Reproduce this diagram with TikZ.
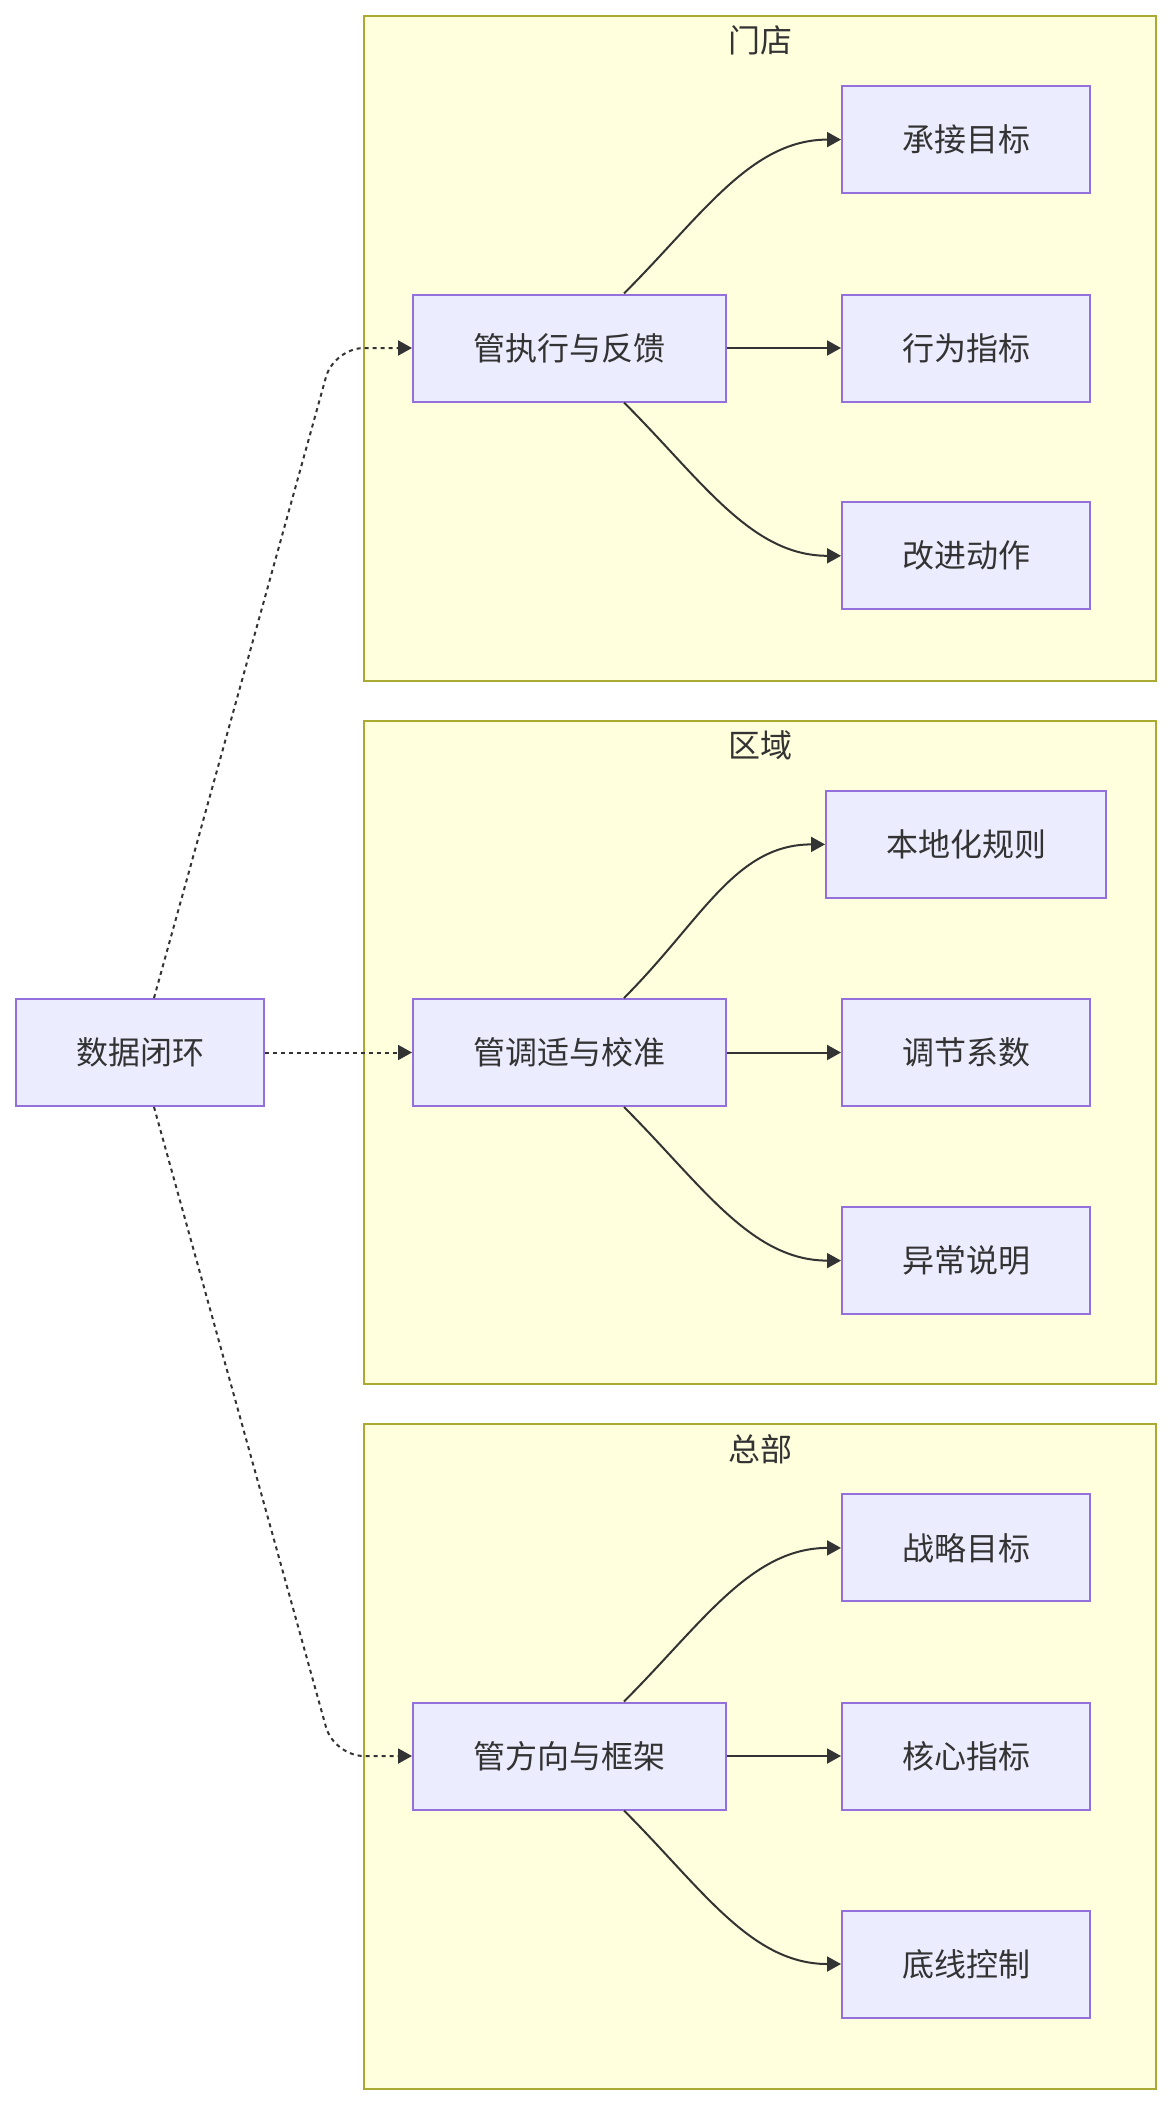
\documentclass[tikz,border=0pt]{standalone}
\usepackage{fontspec}
\setmainfont{Noto Sans CJK SC}
\usetikzlibrary{arrows.meta,positioning}
\definecolor{nodefill}{HTML}{ECECFF}
\definecolor{nodeline}{HTML}{9370DB}
\definecolor{groupfill}{HTML}{FFFFDE}
\definecolor{groupline}{HTML}{AAAA33}
\definecolor{ink}{HTML}{333333}
\tikzset{
  box/.style={draw=nodeline,fill=nodefill,line width=1pt,minimum width=124pt,
              minimum height=53.5pt,inner sep=0pt,text=ink,font=\fontsize{16pt}{19pt}\selectfont},
  wide/.style={minimum width=156.5pt},
  wider/.style={minimum width=140pt},
  group/.style={draw=groupline,fill=groupfill,line width=1pt},
  grouptitle/.style={inner sep=0pt,text=ink,font=\fontsize{16pt}{19pt}\selectfont},
  flow/.style={-{Triangle[length=7pt,width=7.5pt]},line width=1pt,color=ink},
  rise/.style={out=45,in=180,out distance=55pt,in distance=45pt},
  fall/.style={out=-45,in=180,out distance=55pt,in distance=45pt},
  loopflow/.style={flow,dash pattern=on 2pt off 2pt,rounded corners=15pt},
}

\begin{document}
\begin{tikzpicture}[x=0.5pt,y=-0.5pt]
        \useasboundingbox (0,0) rectangle (1172,2104);
        \draw[group] (364,16) rectangle (1156,680.6);
        \draw[group] (364,721) rectangle (1156,1384);
        \draw[group] (364,1424.4) rectangle (1156,2089);
        \node[grouptitle] (tstore) at (760,40) {门店};
        \node[grouptitle] (tarea) at (760,745) {区域};
        \node[grouptitle] (thq) at (760,1449) {总部};

        \node[box] (loop) at (140,1052.5) {数据闭环};

        \node[box,wide] (exec) at (569.5,348) {管执行与反馈};
        \node[box] (take) at (966,139.6) {承接目标};
        \node[box] (act) at (966,348) {行为指标};
        \node[box] (fix) at (966,555.8) {改进动作};

        \node[box,wide] (tune) at (569.5,1052.5) {管调适与校准};
        \node[box,wider] (rule) at (966,844.4) {本地化规则};
        \node[box] (coef) at (966,1052.5) {调节系数};
        \node[box] (odd) at (966,1260.6) {异常说明};

        \node[box,wide] (frame) at (569.5,1756) {管方向与框架};
        \node[box] (aim) at (966,1547.9) {战略目标};
        \node[box] (core) at (966,1756) {核心指标};
        \node[box] (floor) at (966,1964) {底线控制};

        \draw[loopflow] ([xshift=7pt]loop.north) -- ([xshift=-39pt]exec.west) -- (exec.west);
        \draw[loopflow] (loop) -- (tune);
        \draw[loopflow] ([xshift=7pt]loop.south) -- ([xshift=-39pt]frame.west) -- (frame.west);

        \draw[flow] ([xshift=27.25pt]exec.north) to[rise] (take.west);
        \draw[flow] (exec) -- (act);
        \draw[flow] ([xshift=27.25pt]exec.south) to[fall] (fix.west);

        \draw[flow] ([xshift=27.25pt]tune.north) to[rise] (rule.west);
        \draw[flow] (tune) -- (coef);
        \draw[flow] ([xshift=27.25pt]tune.south) to[fall] (odd.west);

        \draw[flow] ([xshift=27.25pt]frame.north) to[rise] (aim.west);
        \draw[flow] (frame) -- (core);
        \draw[flow] ([xshift=27.25pt]frame.south) to[fall] (floor.west);
      \end{tikzpicture}
\end{document}
